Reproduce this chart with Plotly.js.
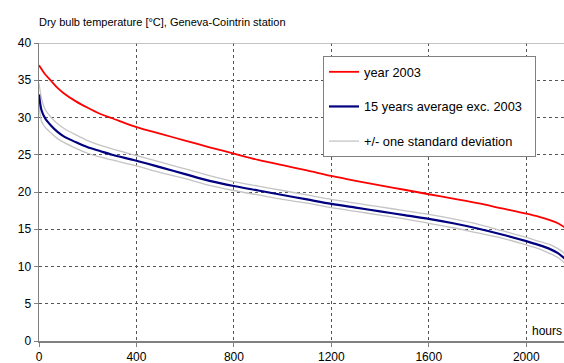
<!DOCTYPE html>
<html>
<head>
<meta charset="utf-8">
<script src="https://cdn.plot.ly/plotly-3.0.1.min.js"></script>
<style>html,body{margin:0;padding:0;background:#fff;}#chart{width:564px;height:363px;}</style>
</head>
<body>
<div id="chart"></div>
<script>
const hours = [0,10,25,50,75,100,150,200,250,300,400,500,600,700,800,900,1000,1100,1200,1300,1400,1500,1600,1700,1800,1900,2000,2050,2100,2130,2160];
const year2003 = [37.0,36.5,35.8,34.9,34.0,33.3,32.2,31.3,30.5,29.9,28.7,27.8,26.9,26.0,25.15,24.3,23.6,22.9,22.15,21.5,20.9,20.3,19.7,19.1,18.5,17.8,17.1,16.7,16.2,15.8,15.2];
const avg15 = [33.1,31.0,29.9,28.9,28.1,27.5,26.7,26.0,25.5,25.0,24.2,23.3,22.4,21.5,20.8,20.2,19.6,19.0,18.4,17.9,17.4,16.9,16.4,15.8,15.1,14.3,13.4,12.9,12.3,11.8,11.0];
const sdUpper = [34.6,32.6,31.1,30.0,29.2,28.6,27.7,26.9,26.3,25.8,24.9,24.0,23.1,22.2,21.4,20.8,20.2,19.6,19.0,18.5,18.0,17.5,17.0,16.4,15.7,14.8,13.9,13.4,12.9,12.4,11.7];
const sdLower = [31.9,29.5,28.7,27.9,27.2,26.7,25.9,25.2,24.7,24.3,23.5,22.6,21.8,20.9,20.2,19.6,19.0,18.5,17.9,17.4,16.9,16.4,15.8,15.2,14.5,13.8,12.9,12.4,11.7,11.2,10.4];
const xTicks = [0,400,800,1200,1600,2000];
const yTicks = [0,5,10,15,20,25,30,35,40];

const FONT = 'Liberation Sans, Arial, sans-serif';
const traces = [
  {x: hours, y: sdUpper, mode:'lines', line:{color:'#c4c4c4', width:1.3, shape:'spline', smoothing:0.8}, name:'+/- one standard deviation', legendgroup:'c', legendrank:3},
  {x: hours, y: sdLower, mode:'lines', line:{color:'#c4c4c4', width:1.3, shape:'spline', smoothing:0.8}, name:'+/- one standard deviation', legendgroup:'c', showlegend:false},
  {x: hours, y: avg15, mode:'lines', line:{color:'#000080', width:2.2, shape:'spline', smoothing:0.8}, name:'15 years average exc. 2003\u00a0\u00a0', legendgroup:'b', legendrank:2},
  {x: hours, y: year2003, mode:'lines', line:{color:'#ff0000', width:1.8, shape:'spline', smoothing:0.8}, name:'year 2003', legendgroup:'a', legendrank:1}
];
const layout = {
  width:564, height:363,
  margin:{l:39, r:0, t:43, b:22},
  paper_bgcolor:'#fff', plot_bgcolor:'#fff',
  font:{family:FONT, size:12, color:'#000'},
  title:{text:'Dry bulb temperature [°C], Geneva-Cointrin station', font:{family:FONT, size:11, color:'#000'},
         xref:'container', x:39/564, xanchor:'left', yref:'container', y:1-22/363, yanchor:'middle'},
  xaxis:{range:[0,2155], tickvals:xTicks, ticktext:xTicks.map(String), showgrid:true, gridcolor:'#555', griddash:'dot', gridwidth:1,
         showline:true, linecolor:'#808080', linewidth:2, mirror:false, ticks:'outside', ticklen:4, tickcolor:'#808080',
         zeroline:false, tickfont:{family:FONT, size:12}, fixedrange:true},
  yaxis:{range:[0,40], tickvals:yTicks, ticktext:yTicks.map(String), showgrid:true, gridcolor:'#555', griddash:'dot', gridwidth:1,
         showline:true, linecolor:'#808080', linewidth:1.5, ticks:'outside', ticklen:4, tickcolor:'#808080',
         zeroline:false, tickfont:{family:FONT, size:12}, fixedrange:true},
  shapes:[{type:'line', xref:'paper', yref:'y', x0:0, x1:1, y0:40, y1:40, line:{color:'#b0b0b0', width:1.5}}],
  legend:{x:(323-39)/525, xanchor:'left', y:(341-56)/298, yanchor:'top', bgcolor:'#fff', bordercolor:'#808080', borderwidth:1,
          font:{family:FONT, size:12.8, color:'#000'}, tracegroupgap:15, traceorder:'grouped', itemwidth:30},
  annotations:[{text:'hours', xref:'paper', yref:'y', x:(530-39)/525, y:1.3, xanchor:'left', yanchor:'middle', showarrow:false,
                font:{family:FONT, size:12, color:'#000'}}],
  showlegend:true
};
Plotly.newPlot('chart', traces, layout, {displayModeBar:false, staticPlot:true});
</script>
</body>
</html>
